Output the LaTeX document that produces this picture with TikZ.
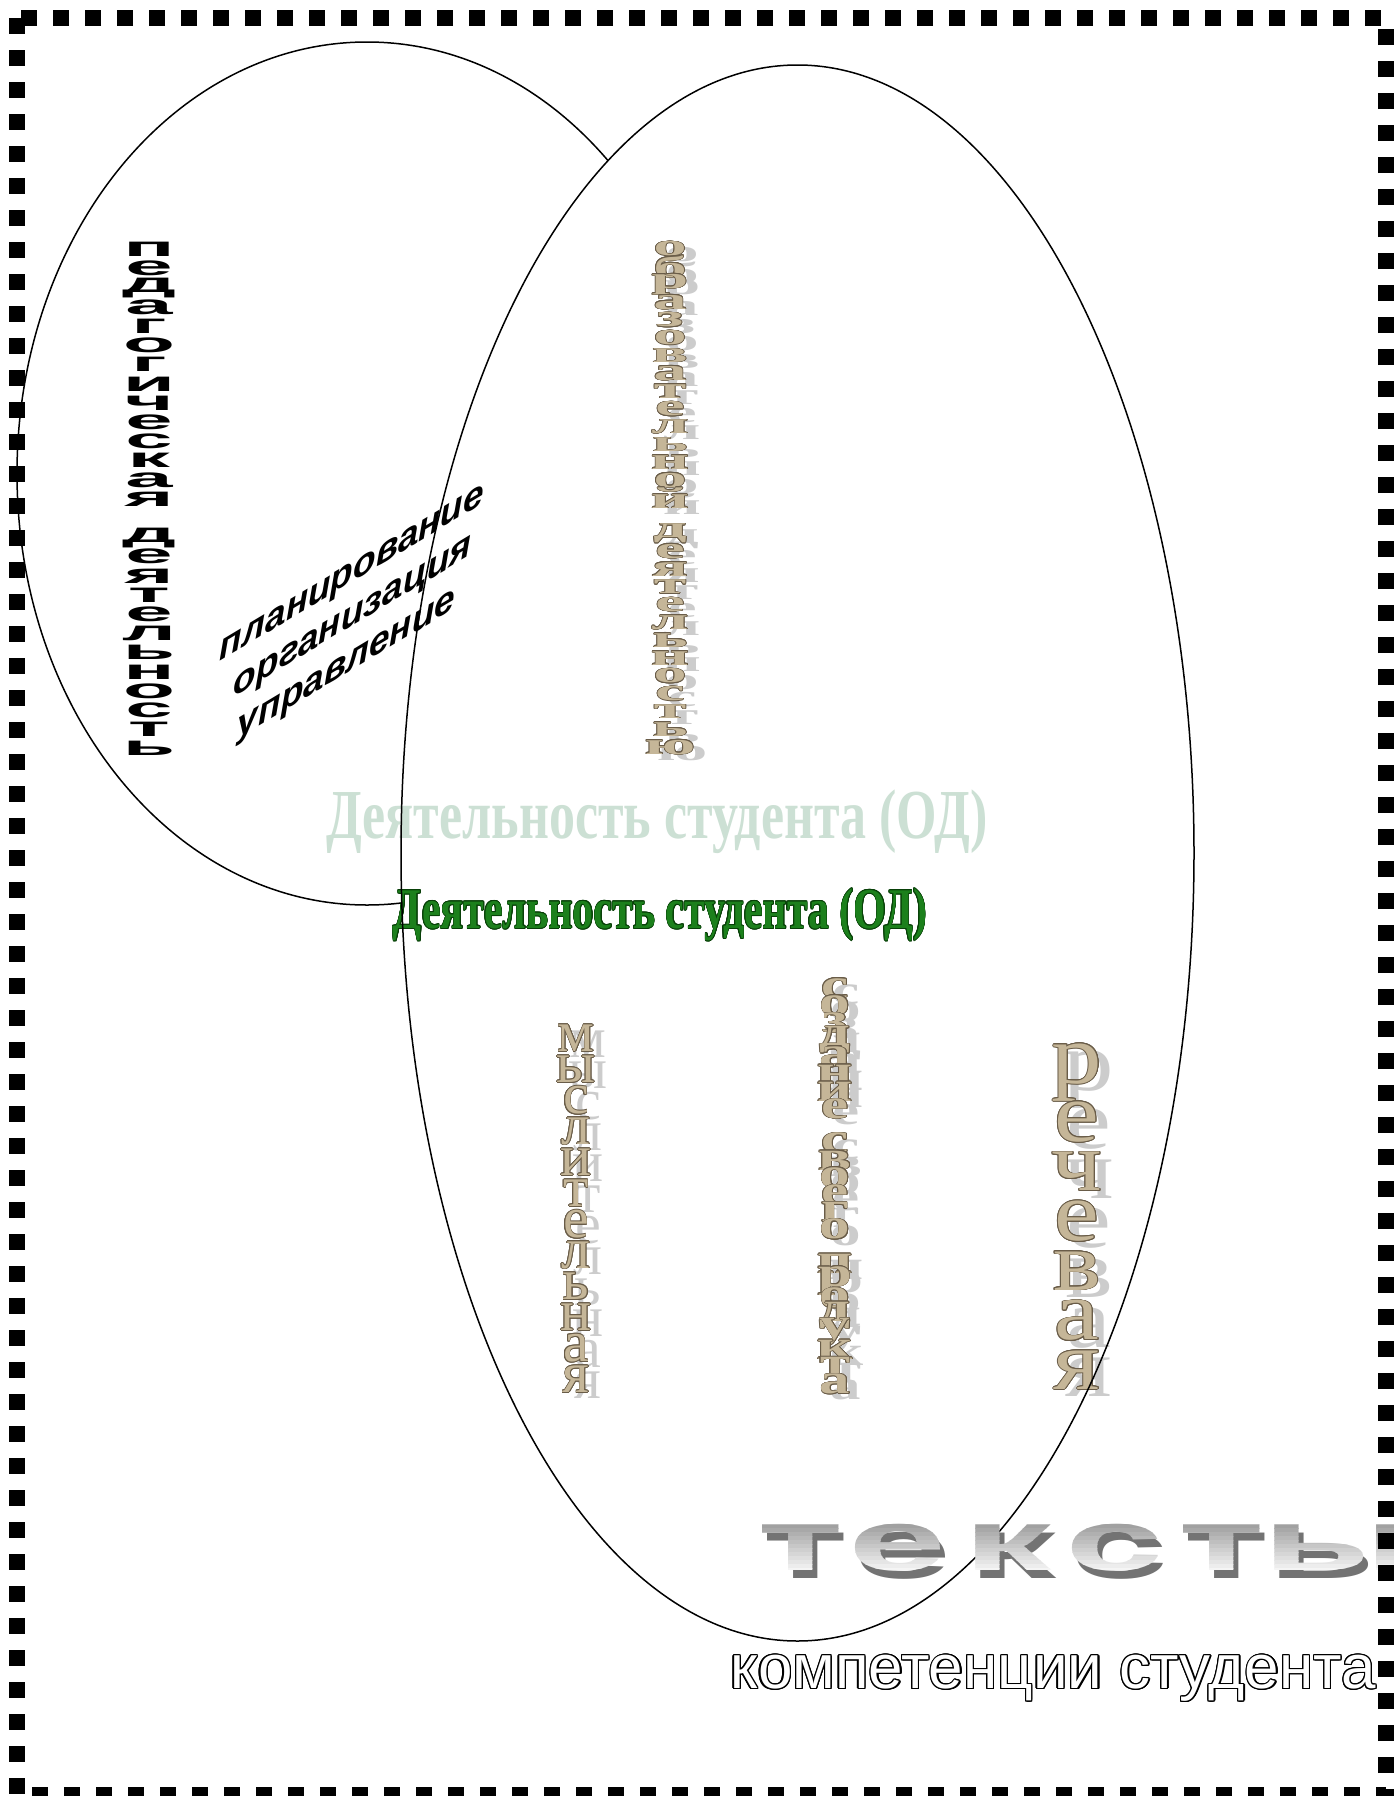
\documentclass[tikz,border=0pt]{standalone}
\usepackage{fontspec}
\setmainfont{Liberation Serif}
\newfontfamily\sansf{Liberation Sans}
\usepackage{graphicx}
\usepackage[copies]{contour}
\usetikzlibrary{shapes.geometric}
\definecolor{tanfill}{RGB}{197,182,152}
\definecolor{tanline}{RGB}{105,92,72}
\definecolor{shadowgray}{RGB}{204,204,204}
\definecolor{lightgreen}{RGB}{204,224,212}
\definecolor{darkgreen}{RGB}{28,128,28}
\definecolor{greenline}{RGB}{8,64,8}
\newcommand\scl[3]{\fontsize{#1}{#1}\selectfont\scalebox{#2}[1]{#3}}
\newcommand\tanl[2]{{\contourlength{#1}\contour{tanline}{\textcolor{tanfill}{#2}}}}
\newcommand\shl[1]{\textcolor{shadowgray}{#1}}
\newcommand\tekst[2]{\sansf\bfseries\fontsize{86}{86}\selectfont\scalebox{2.05}[1]{\textcolor{#1}{#2}}}
\def\pedlist{п,е,д,а,г,о,г,и,ч,е,с,к,а,я,{},д,е,я,т,е,л,ь,н,о,с,т,ь}
\def\obrlist{о,б,р,а,з,о,в,а,т,е,л,ь,н,о,й,{},д,е,я,т,е,л,ь,н,о,с,т,ь,ю}
\def\myslist{м,ы,с,л,и,т,е,л,ь,н,а,я}
\def\sozlist{с,о,з,д,а,н,и,е,{},с,в,о,е,г,о,{},п,р,о,д,у,к,т,а}
\def\reclist{р,е,ч,е,в,а,я}
\def\tekstlist{т/801,е/898,к/1008,с/1115,т/1222,ы/1338}
\begin{document}
\begin{tikzpicture}[x=1pt,y=-1pt,every node/.style={inner sep=0pt,outer sep=0pt}]
\useasboundingbox (0,0) rectangle (1393,1796);
\fill[white] (0,0) rectangle (1393,1796);
% ellipses
\node (pedell) [draw,ellipse,line width=1.5pt,minimum width=700pt,minimum height=863pt] at (367,473.5) {};
\node (studell) [fill=white,ellipse,minimum width=793pt,minimum height=1576pt] at (797.5,853) {};
% pedagogical activity
\foreach \ch [count=\i] in \pedlist
  \node (ped\i) at (149,{240+19.2*(\i-0.5)}) {\sansf\bfseries\fontsize{34}{34}\selectfont\scalebox{2.5}[0.8]{\ch}};
\node (plan) [yslant=0.6,align=left,font=\sansf\bfseries\itshape\fontsize{37}{44}\selectfont] at (352,620) {планирование\\\hspace*{14pt}организация\\\hspace*{18pt}управление};
% obrazovatelnoj
\foreach \ch [count=\i] in \obrlist
  \node (obrs\i) at (682,{246+17.8*(\i-0.5)}) {\bfseries\scl{30}{2.2}{\shl{\ch}}};
\foreach \ch [count=\i] in \obrlist
  \node (obr\i) at (670,{240+17.8*(\i-0.5)}) {\bfseries\scl{30}{2.2}{\tanl{0.35pt}{\ch}}};
% student activity
\node (odl) at (657,822) {\bfseries\fontsize{52}{52}\selectfont\scalebox{1}[1.35]{\textcolor{lightgreen}{Деятельность студента (ОД)}}};
\node (odd) at (660,915) {\bfseries\fontsize{42}{42}\selectfont\scalebox{1}[1.37]{\contourlength{0.5pt}\contour{greenline}{\textcolor{darkgreen}{Деятельность студента (ОД)}}}};
% myslitelnaja
\foreach \ch [count=\i] in \myslist
  \node (myss\i) at (588,{1029+31*(\i-0.5)}) {\scl{58}{1}{\shl{\ch}}};
\foreach \ch [count=\i] in \myslist
  \node (mys\i) at (576,{1023+31*(\i-0.5)}) {\scl{58}{1}{\tanl{0.6pt}{\ch}}};
% sozdanie
\foreach \ch [count=\i] in \sozlist
  \node (sozs\i) at (846,{986+17.2*(\i-0.5)}) {\bfseries\scl{42}{1.45}{\shl{\ch}}};
\foreach \ch [count=\i] in \sozlist
  \node (soz\i) at (835,{980+17.2*(\i-0.5)}) {\bfseries\scl{42}{1.45}{\tanl{0.45pt}{\ch}}};
% rechevaja
\foreach \ch [count=\i] in \reclist
  \node (recs\i) at (1089,{1055+49.6*(\i-0.5)}) {\scl{84}{1.2}{\shl{\ch}}};
\foreach \ch [count=\i] in \reclist
  \node (rec\i) at (1077,{1048+49.6*(\i-0.5)}) {\scl{84}{1.2}{\tanl{0.7pt}{\ch}}};
% outline of the big ellipse on top
\node (studline) [draw,ellipse,line width=1.5pt,minimum width=793pt,minimum height=1576pt] at (studell) {};
% teksty
\foreach \ch/\xx [count=\j] in \tekstlist
  \node (txs\j) at ({\xx+5},1556) {\tekst{black!55}{\ch}};
\foreach \k in {0,...,13} {
  \pgfmathsetmacro\pc{40-39*\k/13}
  \begin{scope}
    \clip (740,{1520+4*\k}) rectangle (1400,{1524.3+4*\k});
    \foreach \ch/\xx [count=\j] in \tekstlist
      \node (tx\k-\j) at (\xx,1548) {\tekst{black!\pc}{\ch}};
  \end{scope}
}
% competences
\node (komp) at (1053,1679) {\sansf\fontsize{62}{62}\selectfont\contourlength{1.3pt}\contour{black}{\textcolor{white}{компетенции студента}}};
% frame
\draw[line width=16pt,dash pattern=on 16pt off 16pt] (17,18) rectangle (1386,1795);
\end{tikzpicture}
\end{document}
